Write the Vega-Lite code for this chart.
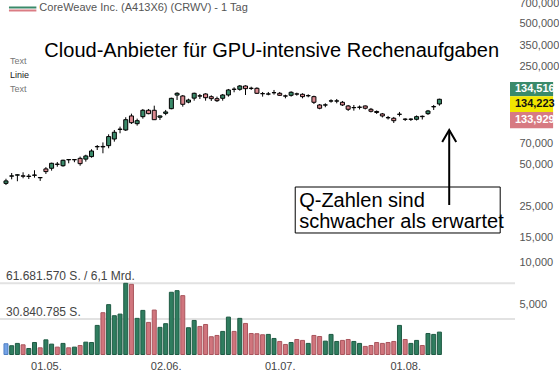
{
  "$schema": "https://vega.github.io/schema/vega-lite/v6.json",
  "width": 515,
  "height": 355,
  "autosize": {"type": "none"},
  "padding": {"left": 0, "top": 0, "right": 44, "bottom": 19},
  "background": "white",
  "config": {"view": {"stroke": null}, "font": "Liberation Sans"},
  "datasets": {
    "k": [
      {"i":1,"d":"2025-04-22","o":36.7,"h":39.6,"l":35.7,"c":38.2,"v":9300000,"vc":"b"},
      {"i":2,"d":"2025-04-23","o":41.3,"h":43.5,"l":39.2,"c":41.5,"v":7600000,"vc":"g"},
      {"i":3,"d":"2025-04-24","o":42.0,"h":42.6,"l":38.0,"c":42.2,"v":9600000,"vc":"g"},
      {"i":4,"d":"2025-04-25","o":41.5,"h":44.0,"l":39.9,"c":41.3,"v":8400000,"vc":"r"},
      {"i":5,"d":"2025-04-28","o":41.1,"h":42.8,"l":39.4,"c":41.3,"v":5200000,"vc":"g"},
      {"i":6,"d":"2025-04-29","o":41.9,"h":45.5,"l":40.3,"c":42.1,"v":10400000,"vc":"g"},
      {"i":7,"d":"2025-04-30","o":40.4,"h":40.6,"l":38.2,"c":40.2,"v":5800000,"vc":"r"},
      {"i":8,"d":"2025-05-01","o":46.5,"h":47.9,"l":42.8,"c":44.5,"v":12700000,"vc":"g"},
      {"i":9,"d":"2025-05-02","o":47.0,"h":51.5,"l":45.2,"c":51.0,"v":9000000,"vc":"g"},
      {"i":10,"d":"2025-05-05","o":50.3,"h":52.1,"l":48.2,"c":50.1,"v":6400000,"vc":"r"},
      {"i":11,"d":"2025-05-06","o":49.0,"h":54.1,"l":48.2,"c":53.6,"v":9600000,"vc":"g"},
      {"i":12,"d":"2025-05-07","o":54.0,"h":54.4,"l":51.0,"c":54.2,"v":5800000,"vc":"r"},
      {"i":13,"d":"2025-05-08","o":54.2,"h":54.4,"l":51.9,"c":54.0,"v":6400000,"vc":"g"},
      {"i":14,"d":"2025-05-09","o":55.3,"h":56.9,"l":49.0,"c":50.7,"v":7800000,"vc":"r"},
      {"i":15,"d":"2025-05-12","o":54.6,"h":58.7,"l":52.4,"c":57.5,"v":10700000,"vc":"g"},
      {"i":16,"d":"2025-05-13","o":56.9,"h":64.2,"l":55.9,"c":62.4,"v":10400000,"vc":"g"},
      {"i":17,"d":"2025-05-14","o":66.8,"h":68.8,"l":63.4,"c":67.1,"v":25200000,"vc":"g"},
      {"i":18,"d":"2025-05-15","o":67.2,"h":71.8,"l":60.1,"c":66.7,"v":36200000,"vc":"r"},
      {"i":19,"d":"2025-05-16","o":68.1,"h":82.0,"l":65.2,"c":79.0,"v":43200000,"vc":"g"},
      {"i":20,"d":"2025-05-19","o":75.9,"h":88.0,"l":72.7,"c":84.8,"v":33600000,"vc":"g"},
      {"i":21,"d":"2025-05-20","o":88.8,"h":93.0,"l":83.4,"c":89.3,"v":35000000,"vc":"g"},
      {"i":22,"d":"2025-05-21","o":88.0,"h":108.5,"l":86.6,"c":104.2,"v":61681570,"vc":"g"},
      {"i":23,"d":"2025-05-22","o":110.8,"h":115.0,"l":97.1,"c":99.2,"v":60800000,"vc":"r"},
      {"i":24,"d":"2025-05-23","o":97.6,"h":106.0,"l":94.5,"c":102.5,"v":31300000,"vc":"g"},
      {"i":25,"d":"2025-05-27","o":109.5,"h":124.2,"l":106.0,"c":121.6,"v":38200000,"vc":"g"},
      {"i":26,"d":"2025-05-28","o":121.6,"h":124.2,"l":113.9,"c":115.0,"v":27800000,"vc":"r"},
      {"i":27,"d":"2025-05-29","o":121.6,"h":131.1,"l":104.0,"c":104.2,"v":38500000,"vc":"r"},
      {"i":28,"d":"2025-05-30","o":108.5,"h":111.7,"l":103.7,"c":110.8,"v":23500000,"vc":"g"},
      {"i":29,"d":"2025-06-02","o":115.6,"h":122.2,"l":112.1,"c":118.3,"v":26700000,"vc":"g"},
      {"i":30,"d":"2025-06-03","o":124.8,"h":149.4,"l":123.6,"c":147.9,"v":53900000,"vc":"g"},
      {"i":31,"d":"2025-06-04","o":156.0,"h":163.3,"l":143.9,"c":160.6,"v":55300000,"vc":"g"},
      {"i":32,"d":"2025-06-05","o":153.7,"h":156.2,"l":129.0,"c":134.1,"v":51000000,"vc":"r"},
      {"i":33,"d":"2025-06-06","o":138.9,"h":147.0,"l":136.3,"c":143.9,"v":23200000,"vc":"g"},
      {"i":34,"d":"2025-06-09","o":148.3,"h":162.3,"l":142.3,"c":160.6,"v":29500000,"vc":"g"},
      {"i":35,"d":"2025-06-10","o":154.2,"h":158.8,"l":146.3,"c":153.4,"v":24300000,"vc":"r"},
      {"i":36,"d":"2025-06-11","o":158.8,"h":160.6,"l":142.3,"c":149.4,"v":26000000,"vc":"r"},
      {"i":37,"d":"2025-06-12","o":151.9,"h":155.4,"l":141.6,"c":147.1,"v":15400000,"vc":"r"},
      {"i":38,"d":"2025-06-13","o":147.0,"h":152.0,"l":139.3,"c":142.3,"v":16500000,"vc":"r"},
      {"i":39,"d":"2025-06-16","o":148.0,"h":158.8,"l":142.3,"c":156.2,"v":20000000,"vc":"g"},
      {"i":40,"d":"2025-06-17","o":156.2,"h":172.4,"l":152.0,"c":169.6,"v":32400000,"vc":"g"},
      {"i":41,"d":"2025-06-18","o":171.8,"h":177.2,"l":163.3,"c":171.3,"v":20000000,"vc":"r"},
      {"i":42,"d":"2025-06-20","o":171.5,"h":184.0,"l":167.6,"c":181.0,"v":31300000,"vc":"g"},
      {"i":43,"d":"2025-06-23","o":181.0,"h":183.0,"l":156.2,"c":173.2,"v":26900000,"vc":"r"},
      {"i":44,"d":"2025-06-24","o":174.5,"h":178.9,"l":169.6,"c":174.0,"v":18200000,"vc":"r"},
      {"i":45,"d":"2025-06-25","o":174.3,"h":177.2,"l":158.8,"c":160.6,"v":18000000,"vc":"r"},
      {"i":46,"d":"2025-06-26","o":159.8,"h":164.1,"l":152.0,"c":159.5,"v":17100000,"vc":"r"},
      {"i":47,"d":"2025-06-27","o":158.5,"h":164.1,"l":155.4,"c":158.9,"v":17400000,"vc":"g"},
      {"i":48,"d":"2025-06-30","o":162.0,"h":169.6,"l":157.0,"c":162.4,"v":13900000,"vc":"g"},
      {"i":49,"d":"2025-07-01","o":160.6,"h":164.1,"l":153.7,"c":155.4,"v":11300000,"vc":"r"},
      {"i":50,"d":"2025-07-02","o":153.9,"h":157.0,"l":147.9,"c":153.4,"v":8700000,"vc":"r"},
      {"i":51,"d":"2025-07-03","o":155.4,"h":166.0,"l":152.0,"c":163.3,"v":10400000,"vc":"g"},
      {"i":52,"d":"2025-07-07","o":159.0,"h":162.3,"l":154.5,"c":158.5,"v":13000000,"vc":"r"},
      {"i":53,"d":"2025-07-08","o":158.0,"h":160.6,"l":147.9,"c":152.0,"v":12200000,"vc":"r"},
      {"i":54,"d":"2025-07-09","o":154.2,"h":158.0,"l":150.4,"c":154.6,"v":9600000,"vc":"g"},
      {"i":55,"d":"2025-07-10","o":152.0,"h":154.5,"l":134.8,"c":138.6,"v":16500000,"vc":"r"},
      {"i":56,"d":"2025-07-11","o":132.6,"h":134.8,"l":123.6,"c":125.7,"v":15600000,"vc":"r"},
      {"i":57,"d":"2025-07-14","o":132.4,"h":136.3,"l":127.8,"c":132.8,"v":11600000,"vc":"g"},
      {"i":58,"d":"2025-07-15","o":141.4,"h":145.6,"l":137.7,"c":141.8,"v":17400000,"vc":"g"},
      {"i":59,"d":"2025-07-16","o":141.3,"h":146.3,"l":136.3,"c":141.8,"v":11300000,"vc":"g"},
      {"i":60,"d":"2025-07-17","o":138.6,"h":141.6,"l":130.5,"c":132.6,"v":12200000,"vc":"r"},
      {"i":61,"d":"2025-07-18","o":130.5,"h":132.6,"l":120.2,"c":123.6,"v":13000000,"vc":"r"},
      {"i":62,"d":"2025-07-21","o":126.8,"h":132.6,"l":120.8,"c":127.2,"v":11300000,"vc":"g"},
      {"i":63,"d":"2025-07-22","o":127.6,"h":131.5,"l":123.2,"c":128.0,"v":9600000,"vc":"g"},
      {"i":64,"d":"2025-07-23","o":130.5,"h":131.5,"l":123.2,"c":125.7,"v":7000000,"vc":"r"},
      {"i":65,"d":"2025-07-24","o":123.6,"h":126.3,"l":117.3,"c":119.6,"v":7800000,"vc":"r"},
      {"i":66,"d":"2025-07-25","o":119.2,"h":121.2,"l":114.5,"c":117.3,"v":10400000,"vc":"r"},
      {"i":67,"d":"2025-07-28","o":114.5,"h":116.3,"l":108.1,"c":110.8,"v":9600000,"vc":"r"},
      {"i":68,"d":"2025-07-29","o":107.8,"h":110.8,"l":104.5,"c":107.5,"v":10400000,"vc":"r"},
      {"i":69,"d":"2025-07-30","o":106.7,"h":109.0,"l":98.7,"c":102.5,"v":11300000,"vc":"r"},
      {"i":70,"d":"2025-07-31","o":113.7,"h":118.3,"l":109.9,"c":114.1,"v":25200000,"vc":"g"},
      {"i":71,"d":"2025-08-01","o":105.2,"h":106.6,"l":102.0,"c":104.8,"v":13000000,"vc":"r"},
      {"i":72,"d":"2025-08-04","o":104.8,"h":106.6,"l":102.0,"c":105.2,"v":9600000,"vc":"g"},
      {"i":73,"d":"2025-08-05","o":104.9,"h":111.7,"l":102.8,"c":109.5,"v":12200000,"vc":"g"},
      {"i":74,"d":"2025-08-06","o":110.2,"h":111.7,"l":104.5,"c":109.5,"v":7800000,"vc":"r"},
      {"i":75,"d":"2025-08-07","o":115.0,"h":122.2,"l":112.6,"c":120.2,"v":18200000,"vc":"g"},
      {"i":76,"d":"2025-08-08","o":128.6,"h":132.6,"l":122.2,"c":129.2,"v":17400000,"vc":"g"},
      {"i":77,"d":"2025-08-11","o":134.8,"h":147.0,"l":131.1,"c":145.6,"v":19400000,"vc":"g"}
    ]
  },
  "layer": [
    {
      "layer": [
        {
          "data": {"name": "k"},
          "mark": {"type": "rule", "color": "black", "strokeWidth": 1},
          "encoding": {
            "x": {"field": "i", "type": "quantitative", "scale": {"domain": [0.828, 89.38], "nice": false, "zero": false},
                  "axis": {"orient": "bottom", "values": [8, 29, 49, 71], "labelExpr": "datum.value == 8 ? '01.05.' : datum.value == 29 ? '02.06.' : datum.value == 49 ? '01.07.' : '01.08.'", "ticks": false, "domain": false, "grid": false, "labelFontSize": 11, "labelColor": "#444", "labelPadding": 5, "labelFlush": false, "title": null, "labelFont": "Liberation Sans", "zindex": 1}},
            "y": {"field": "l", "type": "quantitative", "scale": {"type": "log", "domain": [2.203, 740.9], "nice": false},
                  "axis": {"orient": "right", "values": [5, 10, 15, 25, 50, 70, 250, 350, 500, 700], "labelExpr": "replace(format(datum.value, '.3f'), '.', ',')", "ticks": false, "domain": false, "grid": false, "labelFontSize": 11, "labelColor": "#555", "labelPadding": 4, "labelFlush": false, "labelOverlap": false, "title": null, "labelFont": "Liberation Sans", "zindex": 1}},
            "y2": {"field": "h"}
          }
        },
        {
          "data": {"name": "k"},
          "mark": {"type": "bar", "orient": "vertical", "size": 4, "stroke": "black", "strokeWidth": 1},
          "encoding": {
            "x": {"field": "i", "type": "quantitative", "scale": {"domain": [0.828, 89.38], "nice": false, "zero": false},
                  "axis": {"orient": "bottom", "values": [8, 29, 49, 71], "labelExpr": "datum.value == 8 ? '01.05.' : datum.value == 29 ? '02.06.' : datum.value == 49 ? '01.07.' : '01.08.'", "ticks": false, "domain": false, "grid": false, "labelFontSize": 11, "labelColor": "#444", "labelPadding": 5, "labelFlush": false, "title": null, "labelFont": "Liberation Sans", "zindex": 1}},
            "y": {"field": "o", "type": "quantitative", "scale": {"type": "log", "domain": [2.203, 740.9], "nice": false},
                  "axis": {"orient": "right", "values": [5, 10, 15, 25, 50, 70, 250, 350, 500, 700], "labelExpr": "replace(format(datum.value, '.3f'), '.', ',')", "ticks": false, "domain": false, "grid": false, "labelFontSize": 11, "labelColor": "#555", "labelPadding": 4, "labelFlush": false, "labelOverlap": false, "title": null, "labelFont": "Liberation Sans", "zindex": 1}},
            "y2": {"field": "c"},
            "fill": {"condition": {"test": "datum.c >= datum.o", "value": "#3a8a6a"}, "value": "#db8990"}
          }
        },
        {
          "data": {"values": [
            {"i": 47.6, "p": 291.1, "t": "Cloud-Anbieter für GPU-intensive Rechenaufgaben"}
          ]},
          "mark": {"type": "text", "fontSize": 20, "align": "center", "baseline": "alphabetic", "color": "black", "font": "Liberation Sans"},
          "encoding": {
            "x": {"field": "i", "type": "quantitative", "scale": {"domain": [0.828, 89.38], "nice": false, "zero": false},
                  "axis": {"orient": "bottom", "values": [8, 29, 49, 71], "labelExpr": "datum.value == 8 ? '01.05.' : datum.value == 29 ? '02.06.' : datum.value == 49 ? '01.07.' : '01.08.'", "ticks": false, "domain": false, "grid": false, "labelFontSize": 11, "labelColor": "#444", "labelPadding": 5, "labelFlush": false, "title": null, "labelFont": "Liberation Sans", "zindex": 1}},
            "y": {"field": "p", "type": "quantitative", "scale": {"type": "log", "domain": [2.203, 740.9], "nice": false},
                  "axis": {"orient": "right", "values": [5, 10, 15, 25, 50, 70, 250, 350, 500, 700], "labelExpr": "replace(format(datum.value, '.3f'), '.', ',')", "ticks": false, "domain": false, "grid": false, "labelFontSize": 11, "labelColor": "#555", "labelPadding": 4, "labelFlush": false, "labelOverlap": false, "title": null, "labelFont": "Liberation Sans", "zindex": 1}},
            "text": {"field": "t"}
          }
        },
        {
          "data": {"values": [{"i": 6.846, "p": 613.7, "t": "CoreWeave Inc. (A413X6) (CRWV) - 1 Tag"}]},
          "mark": {"type": "text", "fontSize": 11, "align": "left", "baseline": "alphabetic", "color": "#555", "font": "Liberation Sans"},
          "encoding": {
            "x": {"field": "i", "type": "quantitative", "scale": {"domain": [0.828, 89.38], "nice": false, "zero": false},
                  "axis": {"orient": "bottom", "values": [8, 29, 49, 71], "labelExpr": "datum.value == 8 ? '01.05.' : datum.value == 29 ? '02.06.' : datum.value == 49 ? '01.07.' : '01.08.'", "ticks": false, "domain": false, "grid": false, "labelFontSize": 11, "labelColor": "#444", "labelPadding": 5, "labelFlush": false, "title": null, "labelFont": "Liberation Sans", "zindex": 1}},
            "y": {"field": "p", "type": "quantitative", "scale": {"type": "log", "domain": [2.203, 740.9], "nice": false},
                  "axis": {"orient": "right", "values": [5, 10, 15, 25, 50, 70, 250, 350, 500, 700], "labelExpr": "replace(format(datum.value, '.3f'), '.', ',')", "ticks": false, "domain": false, "grid": false, "labelFontSize": 11, "labelColor": "#555", "labelPadding": 4, "labelFlush": false, "labelOverlap": false, "title": null, "labelFont": "Liberation Sans", "zindex": 1}},
            "text": {"field": "t"}
          }
        },
        {
          "data": {"values": [{"i": 1.52, "i2": 6.33, "p": 655.3, "s": "oben"}, {"i": 1.52, "i2": 6.33, "p": 623.9, "s": "unten"}]},
          "mark": {"type": "rule", "strokeWidth": 2},
          "encoding": {
            "x": {"field": "i", "type": "quantitative", "scale": {"domain": [0.828, 89.38], "nice": false, "zero": false},
                  "axis": {"orient": "bottom", "values": [8, 29, 49, 71], "labelExpr": "datum.value == 8 ? '01.05.' : datum.value == 29 ? '02.06.' : datum.value == 49 ? '01.07.' : '01.08.'", "ticks": false, "domain": false, "grid": false, "labelFontSize": 11, "labelColor": "#444", "labelPadding": 5, "labelFlush": false, "title": null, "labelFont": "Liberation Sans", "zindex": 1}},
            "x2": {"field": "i2"},
            "y": {"field": "p", "type": "quantitative", "scale": {"type": "log", "domain": [2.203, 740.9], "nice": false},
                  "axis": {"orient": "right", "values": [5, 10, 15, 25, 50, 70, 250, 350, 500, 700], "labelExpr": "replace(format(datum.value, '.3f'), '.', ',')", "ticks": false, "domain": false, "grid": false, "labelFontSize": 11, "labelColor": "#555", "labelPadding": 4, "labelFlush": false, "labelOverlap": false, "title": null, "labelFont": "Liberation Sans", "zindex": 1}},
            "color": {"condition": {"test": "datum.s == 'oben'", "value": "#3a8a6a"}, "value": "#db7c84"}
          }
        },
        {
          "data": {"values": [{"i": 1.688, "p": 259.6, "t": "Text"}, {"i": 1.688, "p": 206.4, "t": "Linie"}, {"i": 1.688, "p": 164.1, "t": "Text"}]},
          "mark": {"type": "text", "fontSize": 9, "align": "left", "baseline": "alphabetic", "font": "Liberation Sans"},
          "encoding": {
            "x": {"field": "i", "type": "quantitative", "scale": {"domain": [0.828, 89.38], "nice": false, "zero": false},
                  "axis": {"orient": "bottom", "values": [8, 29, 49, 71], "labelExpr": "datum.value == 8 ? '01.05.' : datum.value == 29 ? '02.06.' : datum.value == 49 ? '01.07.' : '01.08.'", "ticks": false, "domain": false, "grid": false, "labelFontSize": 11, "labelColor": "#444", "labelPadding": 5, "labelFlush": false, "title": null, "labelFont": "Liberation Sans", "zindex": 1}},
            "y": {"field": "p", "type": "quantitative", "scale": {"type": "log", "domain": [2.203, 740.9], "nice": false},
                  "axis": {"orient": "right", "values": [5, 10, 15, 25, 50, 70, 250, 350, 500, 700], "labelExpr": "replace(format(datum.value, '.3f'), '.', ',')", "ticks": false, "domain": false, "grid": false, "labelFontSize": 11, "labelColor": "#555", "labelPadding": 4, "labelFlush": false, "labelOverlap": false, "title": null, "labelFont": "Liberation Sans", "zindex": 1}},
            "text": {"field": "t"},
            "color": {"condition": {"test": "datum.t == 'Linie'", "value": "#222"}, "value": "#777"}
          }
        },
        {
          "data": {"values": [{"i": 51.72, "i2": 87.66, "p": 34.57, "p2": 16.27}]},
          "mark": {"type": "rect", "fill": "white", "stroke": "black", "strokeWidth": 1},
          "encoding": {
            "x": {"field": "i", "type": "quantitative", "scale": {"domain": [0.828, 89.38], "nice": false, "zero": false},
                  "axis": {"orient": "bottom", "values": [8, 29, 49, 71], "labelExpr": "datum.value == 8 ? '01.05.' : datum.value == 29 ? '02.06.' : datum.value == 49 ? '01.07.' : '01.08.'", "ticks": false, "domain": false, "grid": false, "labelFontSize": 11, "labelColor": "#444", "labelPadding": 5, "labelFlush": false, "title": null, "labelFont": "Liberation Sans", "zindex": 1}},
            "x2": {"field": "i2"},
            "y": {"field": "p", "type": "quantitative", "scale": {"type": "log", "domain": [2.203, 740.9], "nice": false},
                  "axis": {"orient": "right", "values": [5, 10, 15, 25, 50, 70, 250, 350, 500, 700], "labelExpr": "replace(format(datum.value, '.3f'), '.', ',')", "ticks": false, "domain": false, "grid": false, "labelFontSize": 11, "labelColor": "#555", "labelPadding": 4, "labelFlush": false, "labelOverlap": false, "title": null, "labelFont": "Liberation Sans", "zindex": 1}},
            "y2": {"field": "p2"}
          }
        },
        {
          "data": {"values": [{"i": 52.41, "p": 24.92, "t": "Q-Zahlen sind"}, {"i": 52.41, "p": 17.66, "t": "schwacher als erwartet"}]},
          "mark": {"type": "text", "fontSize": 20, "align": "left", "baseline": "alphabetic", "color": "black", "font": "Liberation Sans"},
          "encoding": {
            "x": {"field": "i", "type": "quantitative", "scale": {"domain": [0.828, 89.38], "nice": false, "zero": false},
                  "axis": {"orient": "bottom", "values": [8, 29, 49, 71], "labelExpr": "datum.value == 8 ? '01.05.' : datum.value == 29 ? '02.06.' : datum.value == 49 ? '01.07.' : '01.08.'", "ticks": false, "domain": false, "grid": false, "labelFontSize": 11, "labelColor": "#444", "labelPadding": 5, "labelFlush": false, "title": null, "labelFont": "Liberation Sans", "zindex": 1}},
            "y": {"field": "p", "type": "quantitative", "scale": {"type": "log", "domain": [2.203, 740.9], "nice": false},
                  "axis": {"orient": "right", "values": [5, 10, 15, 25, 50, 70, 250, 350, 500, 700], "labelExpr": "replace(format(datum.value, '.3f'), '.', ',')", "ticks": false, "domain": false, "grid": false, "labelFontSize": 11, "labelColor": "#555", "labelPadding": 4, "labelFlush": false, "labelOverlap": false, "title": null, "labelFont": "Liberation Sans", "zindex": 1}},
            "text": {"field": "t"}
          }
        },
        {
          "data": {"values": [{"i": 78.72, "p": 88.0, "p2": 25.75}]},
          "mark": {"type": "rule", "color": "black", "strokeWidth": 2},
          "encoding": {
            "x": {"field": "i", "type": "quantitative", "scale": {"domain": [0.828, 89.38], "nice": false, "zero": false},
                  "axis": {"orient": "bottom", "values": [8, 29, 49, 71], "labelExpr": "datum.value == 8 ? '01.05.' : datum.value == 29 ? '02.06.' : datum.value == 49 ? '01.07.' : '01.08.'", "ticks": false, "domain": false, "grid": false, "labelFontSize": 11, "labelColor": "#444", "labelPadding": 5, "labelFlush": false, "title": null, "labelFont": "Liberation Sans", "zindex": 1}},
            "y": {"field": "p", "type": "quantitative", "scale": {"type": "log", "domain": [2.203, 740.9], "nice": false},
                  "axis": {"orient": "right", "values": [5, 10, 15, 25, 50, 70, 250, 350, 500, 700], "labelExpr": "replace(format(datum.value, '.3f'), '.', ',')", "ticks": false, "domain": false, "grid": false, "labelFontSize": 11, "labelColor": "#555", "labelPadding": 4, "labelFlush": false, "labelOverlap": false, "title": null, "labelFont": "Liberation Sans", "zindex": 1}},
            "y2": {"field": "p2"}
          }
        },
        {
          "data": {"values": [{"i": 78.72, "p": 88.0}]},
          "mark": {"type": "point", "shape": "M -1 1.7 L 0 0 L 1 1.7", "size": 196, "filled": false, "stroke": "black", "strokeWidth": 2, "opacity": 1},
          "encoding": {
            "x": {"field": "i", "type": "quantitative", "scale": {"domain": [0.828, 89.38], "nice": false, "zero": false},
                  "axis": {"orient": "bottom", "values": [8, 29, 49, 71], "labelExpr": "datum.value == 8 ? '01.05.' : datum.value == 29 ? '02.06.' : datum.value == 49 ? '01.07.' : '01.08.'", "ticks": false, "domain": false, "grid": false, "labelFontSize": 11, "labelColor": "#444", "labelPadding": 5, "labelFlush": false, "title": null, "labelFont": "Liberation Sans", "zindex": 1}},
            "y": {"field": "p", "type": "quantitative", "scale": {"type": "log", "domain": [2.203, 740.9], "nice": false},
                  "axis": {"orient": "right", "values": [5, 10, 15, 25, 50, 70, 250, 350, 500, 700], "labelExpr": "replace(format(datum.value, '.3f'), '.', ',')", "ticks": false, "domain": false, "grid": false, "labelFontSize": 11, "labelColor": "#555", "labelPadding": 4, "labelFlush": false, "labelOverlap": false, "title": null, "labelFont": "Liberation Sans", "zindex": 1}}
          }
        },
        {
          "data": {"values": [
            {"i": 89.38, "i2": 96.94, "p": 193.2, "p2": 152.9, "q": "134,516", "k": "hoch"},
            {"i": 89.38, "i2": 96.94, "p": 152.9, "p2": 118.3, "q": "134,223", "k": "letzt"},
            {"i": 89.38, "i2": 96.94, "p": 118.3, "p2": 90.5, "q": "133,929", "k": "tief"}
          ]},
          "mark": {"type": "rect"},
          "encoding": {
            "x": {"field": "i", "type": "quantitative", "scale": {"domain": [0.828, 89.38], "nice": false, "zero": false},
                  "axis": {"orient": "bottom", "values": [8, 29, 49, 71], "labelExpr": "datum.value == 8 ? '01.05.' : datum.value == 29 ? '02.06.' : datum.value == 49 ? '01.07.' : '01.08.'", "ticks": false, "domain": false, "grid": false, "labelFontSize": 11, "labelColor": "#444", "labelPadding": 5, "labelFlush": false, "title": null, "labelFont": "Liberation Sans", "zindex": 1}},
            "x2": {"field": "i2"},
            "y": {"field": "p", "type": "quantitative", "scale": {"type": "log", "domain": [2.203, 740.9], "nice": false},
                  "axis": {"orient": "right", "values": [5, 10, 15, 25, 50, 70, 250, 350, 500, 700], "labelExpr": "replace(format(datum.value, '.3f'), '.', ',')", "ticks": false, "domain": false, "grid": false, "labelFontSize": 11, "labelColor": "#555", "labelPadding": 4, "labelFlush": false, "labelOverlap": false, "title": null, "labelFont": "Liberation Sans", "zindex": 1}},
            "y2": {"field": "p2"},
            "fill": {"condition": [{"test": "datum.k == 'hoch'", "value": "#3a8a6a"}, {"test": "datum.k == 'letzt'", "value": "#f2e600"}], "value": "#d77a82"}
          }
        },
        {
          "data": {"values": [
            {"q": "134,516", "k": "hoch", "pt": 172.4, "it": 90.24},
            {"q": "134,223", "k": "letzt", "pt": 134.8, "it": 90.24},
            {"q": "133,929", "k": "tief", "pt": 103.3, "it": 90.24}
          ]},
          "mark": {"type": "text", "fontSize": 11, "fontWeight": "bold", "align": "left", "baseline": "middle", "font": "Liberation Sans"},
          "encoding": {
            "x": {"field": "it", "type": "quantitative", "scale": {"domain": [0.828, 89.38], "nice": false, "zero": false},
                  "axis": {"orient": "bottom", "values": [8, 29, 49, 71], "labelExpr": "datum.value == 8 ? '01.05.' : datum.value == 29 ? '02.06.' : datum.value == 49 ? '01.07.' : '01.08.'", "ticks": false, "domain": false, "grid": false, "labelFontSize": 11, "labelColor": "#444", "labelPadding": 5, "labelFlush": false, "title": null, "labelFont": "Liberation Sans", "zindex": 1}},
            "y": {"field": "pt", "type": "quantitative", "scale": {"type": "log", "domain": [2.203, 740.9], "nice": false},
                  "axis": {"orient": "right", "values": [5, 10, 15, 25, 50, 70, 250, 350, 500, 700], "labelExpr": "replace(format(datum.value, '.3f'), '.', ',')", "ticks": false, "domain": false, "grid": false, "labelFontSize": 11, "labelColor": "#555", "labelPadding": 4, "labelFlush": false, "labelOverlap": false, "title": null, "labelFont": "Liberation Sans", "zindex": 1}},
            "text": {"field": "q"},
            "color": {"condition": {"test": "datum.k == 'letzt'", "value": "#111"}, "value": "white"}
          }
        }
      ]
    },
    {
      "layer": [
        {
          "data": {"values": [{"v": 61681570, "t": "61.681.570 S. / 6,1 Mrd.", "ix": 1.0}, {"v": 30840785, "t": "30.840.785 S.", "ix": 1.0}]},
          "mark": {"type": "rule", "color": "#e2e2e2", "strokeWidth": 2},
          "encoding": {
            "y": {"field": "v", "type": "quantitative", "scale": {"domain": [-433000, 307100000], "nice": false, "zero": false}, "axis": null}
          }
        },
        {
          "data": {"values": [{"v": 61681570, "t": "61.681.570 S. / 6,1 Mrd.", "ix": 1.0}, {"v": 30840785, "t": "30.840.785 S.", "ix": 1.0}]},
          "mark": {"type": "text", "fontSize": 12, "align": "left", "baseline": "alphabetic", "dy": -3, "color": "#444", "font": "Liberation Sans"},
          "encoding": {
            "x": {"field": "ix", "type": "quantitative", "scale": {"domain": [0.828, 89.38], "nice": false, "zero": false},
                  "axis": {"orient": "bottom", "values": [8, 29, 49, 71], "labelExpr": "datum.value == 8 ? '01.05.' : datum.value == 29 ? '02.06.' : datum.value == 49 ? '01.07.' : '01.08.'", "ticks": false, "domain": false, "grid": false, "labelFontSize": 11, "labelColor": "#444", "labelPadding": 5, "labelFlush": false, "title": null, "labelFont": "Liberation Sans", "zindex": 1}},
            "y": {"field": "v", "type": "quantitative", "scale": {"domain": [-433000, 307100000], "nice": false, "zero": false}, "axis": null},
            "text": {"field": "t"}
          }
        },
        {
          "data": {"name": "k"},
          "mark": {"type": "bar", "orient": "vertical", "size": 4, "strokeWidth": 1},
          "encoding": {
            "x": {"field": "i", "type": "quantitative", "scale": {"domain": [0.828, 89.38], "nice": false, "zero": false},
                  "axis": {"orient": "bottom", "values": [8, 29, 49, 71], "labelExpr": "datum.value == 8 ? '01.05.' : datum.value == 29 ? '02.06.' : datum.value == 49 ? '01.07.' : '01.08.'", "ticks": false, "domain": false, "grid": false, "labelFontSize": 11, "labelColor": "#444", "labelPadding": 5, "labelFlush": false, "title": null, "labelFont": "Liberation Sans", "zindex": 1}},
            "y": {"field": "v", "type": "quantitative", "scale": {"domain": [-433000, 307100000], "nice": false, "zero": false}, "axis": null},
            "fill": {"condition": [{"test": "datum.vc == 'g'", "value": "#2f7d5f"}, {"test": "datum.vc == 'r'", "value": "#d0757d"}], "value": "#74a2e6"},
            "stroke": {"condition": [{"test": "datum.vc == 'g'", "value": "#1f5b44"}, {"test": "datum.vc == 'r'", "value": "#a9555d"}], "value": "#4f7fc4"}
          }
        }
      ]
    }
  ],
  "resolve": {"scale": {"y": "independent"}}
}
